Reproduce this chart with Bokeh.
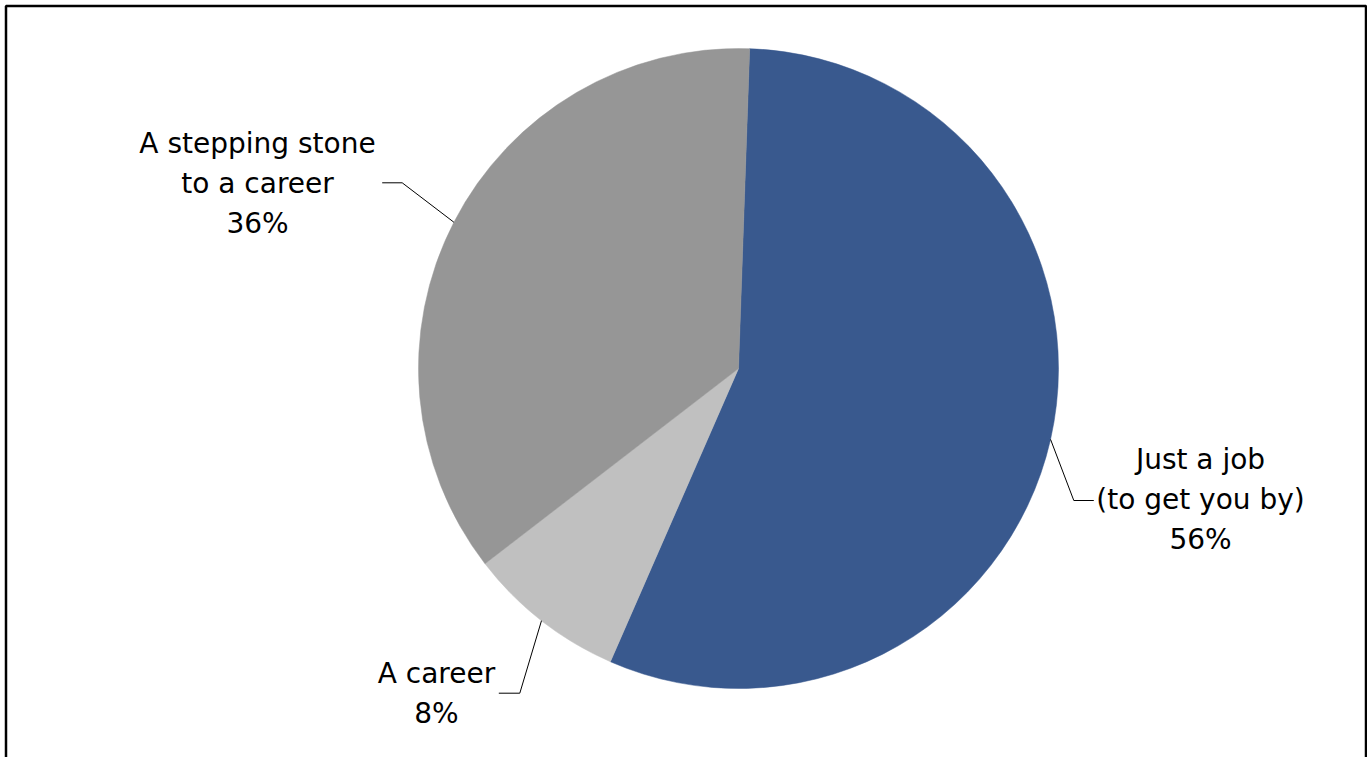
import numpy as np
from bokeh.plotting import figure
from bokeh.models import Range1d
from bokeh.core.properties import value
from bokeh.embed import file_html
from bokeh.resources import INLINE

# ---- data ----
categories = ["Just a job\n(to get you by)", "A career", "A stepping stone\nto a career"]
values = [56, 8, 36]
colors = ["#39598E", "#C0C0C0", "#969696"]

# ---- layout (screen pixel coordinates of the page) ----
W, H = 1367, 757
FONT = "DejaVu Sans"
FSIZE = "28px"
LINE_H = 40
cx, cy_s, R = 738.0, 368.0, 320.0
start_offset = 2.0  # degrees clockwise from 12 o'clock
label_anchor = [(1200, 459), (436, 673), (257, 143)]      # center x, first line y
leader_elbow = [(1073.3, 500), (519.3, 692.7), (401.7, 182.3)]
leader_end = [(1093.3, 500), (498.3, 692.7), (381.7, 182.3)]


def sy(y):
    """screen y -> data y"""
    return H - y


p = figure(width=W, height=H, output_backend="svg", toolbar_location=None,
           x_range=Range1d(0, W), y_range=Range1d(0, H),
           min_border=0, outline_line_color=None, background_fill_color="white",
           border_fill_color="white")
p.axis.visible = False
p.grid.visible = False

# frame border (three visible sides, bottom runs off the page)
p.quad(left=[5.5], right=[1365.5], top=[sy(5.5)], bottom=[sy(820)],
       fill_color=None, line_color="black", line_width=2.5)

vals = np.array(values, dtype=float)
frac = vals / vals.sum()
ends_cw = start_offset + 360 * np.cumsum(frac)
starts_cw = ends_cw - 360 * frac
mids_cw = (starts_cw + ends_cw) / 2

p.wedge(x=[cx] * len(vals), y=[sy(cy_s)] * len(vals), radius=R,
        start_angle=list(np.radians(90 - starts_cw)),
        end_angle=list(np.radians(90 - ends_cw)),
        direction="clock", fill_color=colors, line_color=colors, line_width=0.5)

# leader lines
for m, el, en in zip(mids_cw, leader_elbow, leader_end):
    x0 = cx + R * np.sin(np.radians(m))
    y0 = sy(cy_s) + R * np.cos(np.radians(m))
    p.line(x=[x0, el[0], en[0]], y=[y0, sy(el[1]), sy(en[1])],
           line_color="black", line_width=1)

# labels
tx, ty, tt = [], [], []
for cat, v, (ax, ay) in zip(categories, values, label_anchor):
    lines = cat.split("\n") + [f"{v}%"]
    for i, ln in enumerate(lines):
        tx.append(ax)
        ty.append(sy(ay + i * LINE_H))
        tt.append(ln)
p.text(x=tx, y=ty, text=tt, text_align="center", text_baseline="alphabetic",
       text_font=value(FONT), text_font_size=FSIZE, text_color="black")

open("out.html", "w").write(file_html(p, INLINE))
